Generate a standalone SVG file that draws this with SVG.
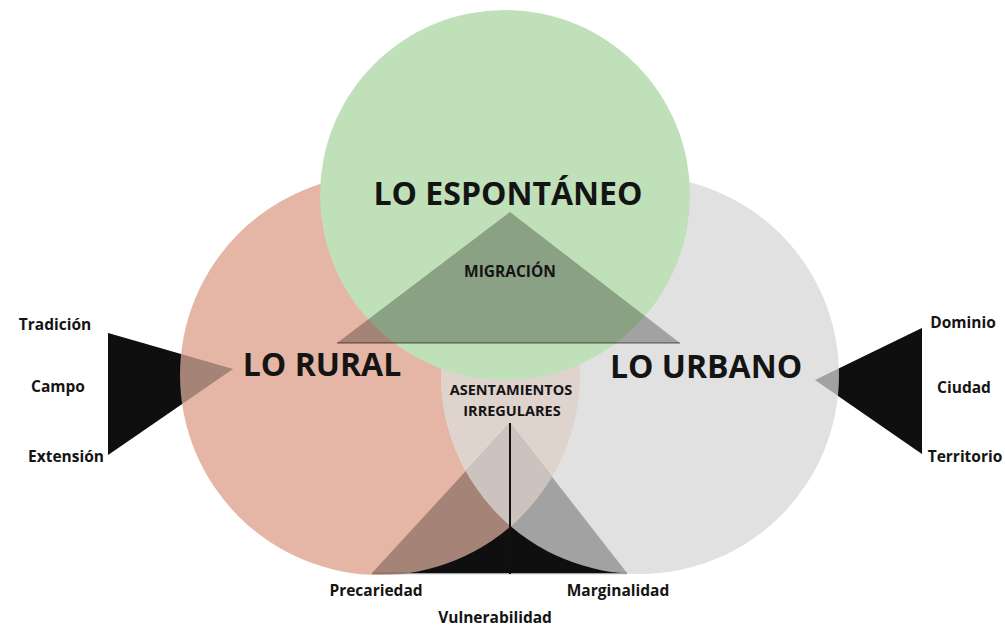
<svg xmlns="http://www.w3.org/2000/svg" width="1005" height="631" viewBox="0 0 1005 631">
<style>
.t{font-family:"Open Sans","Liberation Sans",sans-serif;font-weight:700;fill:#141414}
.big{font-size:32px}
.mid{font-size:15.5px}
.mid2{font-size:14.5px}
.lab{font-size:15.5px}
.solid{fill:#161616}
.shade{fill:#000;fill-opacity:0.28}
</style>
<defs>
<clipPath id="cpPink"><circle cx="380" cy="375" r="200"/></clipPath>
<clipPath id="cpGray"><circle cx="640" cy="375" r="199"/></clipPath>
</defs>
<rect width="1005" height="631" fill="#fff"/>

<g id="connectors">
<polygon class="solid" points="108,333 108,455 233,369"/>
<polygon class="solid" points="922,328 922,454 815,380"/>
<polygon class="solid" points="372,573 627,573 510,423"/>
</g>

<g id="rural">
<circle cx="380" cy="375" r="200" fill="#e5b6a6"/>
</g>
<g id="urbano">
<circle cx="640" cy="375" r="199" fill="#e1e1e1"/>
</g>
<g id="lens">
<g clip-path="url(#cpPink)"><circle cx="640" cy="375" r="199" fill="#dfd3ce"/></g>
</g>

<g id="shades">
<polygon class="shade" points="108,333 108,455 233,369"/>
<polygon class="shade" points="922,328 922,454 815,380"/>
<polygon class="shade" points="372,573 627,573 510,423"/>
<g clip-path="url(#cpPink)"><polygon clip-path="url(#cpGray)" points="372,573 627,573 510,423" fill="#cdc3be"/></g>
<line x1="510" y1="423" x2="510" y2="574" stroke="#111" stroke-width="2"/>
<line x1="372" y1="573.5" x2="627" y2="573.5" stroke="#000" stroke-opacity="0.35" stroke-width="1.5"/>
</g>

<g id="espontaneo">
<circle cx="505" cy="195" r="185" fill="#bfe0b8"/>
</g>

<g id="migracion">
<polygon class="shade" points="337,343 680,343 510,212"/>
<line x1="337" y1="343" x2="680" y2="343" stroke="#000" stroke-opacity="0.4" stroke-width="1.5"/>
</g>

<g id="labels">
<text class="t big" x="508" y="205" text-anchor="middle">LO ESPONTÁNEO</text>
<text class="t big" x="322" y="376" text-anchor="middle">LO RURAL</text>
<text class="t big" x="706" y="378" text-anchor="middle">LO URBANO</text>
<text class="t mid" x="510" y="277" text-anchor="middle">MIGRACIÓN</text>
<text class="t mid2" x="511" y="395" text-anchor="middle">ASENTAMIENTOS</text>
<text class="t mid2" x="512" y="416" text-anchor="middle">IRREGULARES</text>
</g>

<g id="left-labels">
<text class="t lab" x="55" y="330" text-anchor="middle">Tradición</text>
<text class="t lab" x="58" y="392" text-anchor="middle">Campo</text>
<text class="t lab" x="66" y="462" text-anchor="middle">Extensión</text>
</g>
<g id="right-labels">
<text class="t lab" x="963" y="328" text-anchor="middle">Dominio</text>
<text class="t lab" x="964" y="393" text-anchor="middle">Ciudad</text>
<text class="t lab" x="965" y="462" text-anchor="middle">Territorio</text>
</g>
<g id="bottom-labels">
<text class="t lab" x="376" y="596" text-anchor="middle">Precariedad</text>
<text class="t lab" x="618" y="596" text-anchor="middle">Marginalidad</text>
<text class="t lab" x="495" y="623" text-anchor="middle">Vulnerabilidad</text>
</g>
</svg>
